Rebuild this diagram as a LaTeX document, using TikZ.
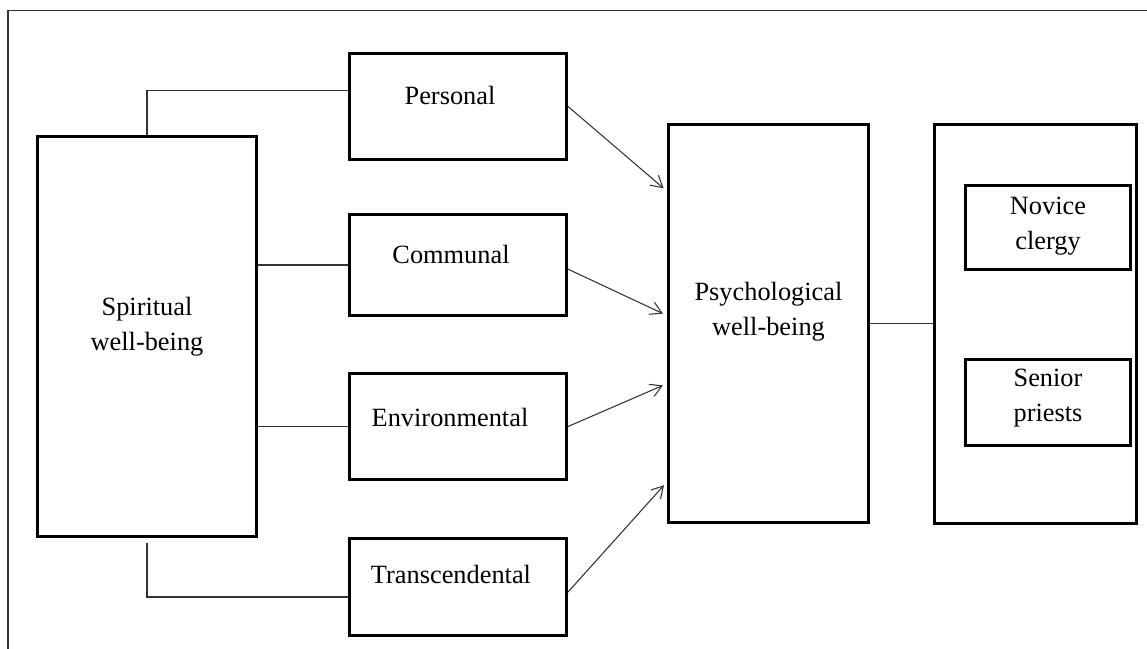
\documentclass[tikz,border=0pt]{standalone}
\usepackage{fontspec}
\setmainfont{Liberation Serif}
\usetikzlibrary{arrows.meta,calc}
\tikzset{
  box/.style={draw, line width=1.8pt, inner sep=0pt},
  link/.style={draw=black!80, line width=0.6pt},
  arr/.style={link, -{Straight Barb[length=6.5pt,width=7.5pt]}, shorten >=2.5pt},
  lbl/.style={font=\fontsize{15}{20}\selectfont, align=center, inner sep=0pt}
}
\begin{document}
\begin{tikzpicture}[x=0.02cm, y=-0.02cm]
    \useasboundingbox (0,0) rectangle (1147,649);
    % frame
    \draw[black!80, line width=0.6pt] (8,649) -- (8,10.5) -- (1147,10.5);

    % boxes
    \node[box, minimum width=4.38cm, minimum height=8.00cm] (spir) at (147,336.5) {};
    \node[box, minimum width=4.34cm, minimum height=2.12cm] (pers) at (458,106.5) {};
    \node[box, minimum width=4.34cm, minimum height=2.02cm] (comm) at (458,265) {};
    \node[box, minimum width=4.34cm, minimum height=2.12cm] (env) at (458,426.5) {};
    \node[box, minimum width=4.34cm, minimum height=1.94cm] (trans) at (458,587) {};
    \node[box, minimum width=4.00cm, minimum height=7.96cm] (psy) at (768.5,323.5) {};
    \node[box, minimum width=4.04cm, minimum height=7.98cm] (grp) at (1035.5,324) {};
    \node[box, minimum width=3.30cm, minimum height=1.68cm] (nov) at (1048,227.5) {};
    \node[box, minimum width=3.30cm, minimum height=1.72cm] (sen) at (1048,402.5) {};

    % labels
    \node[lbl] (spirt) at (147,326.5) {Spiritual\\well-being};
    \node[lbl, anchor=base] (perst) at (450,104) {Personal};
    \node[lbl, anchor=base] (commt) at (451,263) {Communal};
    \node[lbl, anchor=base] (envt) at (450,426) {Environmental};
    \node[lbl, anchor=base] (transt) at (451,583) {Transcendental};
    \node[lbl] (psyt) at (768.5,311.5) {Psychological\\well-being};
    \node[lbl] (novt) at (1048,226) {Novice\\clergy};
    \node[lbl] (sent) at (1048,398) {Senior\\priests};

    % connectors
    \draw[link] (spir.north) |- ($(pers.north west)!0.35!(pers.south west)$);
    \draw[link] (comm.west) -- (comm.west -| spir.east);
    \draw[link] (env.west) -- (env.west -| spir.east);
    \draw[link] ([yshift=-3pt]spir.south) |- ($(trans.north west)!0.6!(trans.south west)$);

    \draw[arr] (pers.east) -- ($(psy.north west)!0.17!(psy.south west)$);
    \draw[arr] ($(comm.north east)!0.54!(comm.south east)$) -- ($(psy.north west)!0.48!(psy.south west)$);
    \draw[arr] (env.east) -- ($(psy.north west)!0.65!(psy.south west)$);
    \draw[arr] ($(trans.north east)!0.55!(trans.south east)$) -- ($(psy.north west)!0.895!(psy.south west)$);

    \draw[link] (psy.east) -- (psy.east -| grp.west);
\end{tikzpicture}
\end{document}
